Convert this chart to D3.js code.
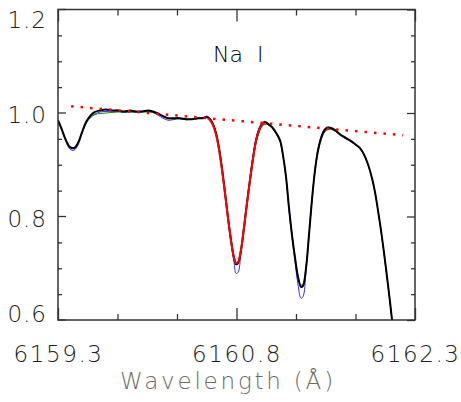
<!DOCTYPE html>
<html>
<head>
<meta charset="utf-8">
<script src="https://cdn.jsdelivr.net/npm/d3@7"></script>
<style>
  body { margin: 0; background: #fff; }
  svg { display: block; }
  .lbl { font-family: "DejaVu Sans", sans-serif; font-weight: 200; }
</style>
</head>
<body>
<div id="chart"></div>
<script>
// wavelength grid (Angstrom)
var wave = [6159.300, 6159.334, 6159.367, 6159.401, 6159.434, 6159.468, 6159.502, 6159.535, 6159.569, 6159.611,
  6159.653, 6159.703, 6159.754, 6159.804, 6159.855, 6159.905, 6159.955, 6160.006, 6160.056, 6160.098,
  6160.140, 6160.182, 6160.224, 6160.266, 6160.325, 6160.376, 6160.426, 6160.476, 6160.518, 6160.552,
  6160.577, 6160.603, 6160.628, 6160.653, 6160.678, 6160.703, 6160.729, 6160.754, 6160.779, 6160.796,
  6160.813, 6160.838, 6160.863, 6160.888, 6160.913, 6160.939, 6160.964, 6160.989, 6161.014, 6161.039,
  6161.065, 6161.098, 6161.132, 6161.166, 6161.191, 6161.216, 6161.241, 6161.266, 6161.292, 6161.317,
  6161.342, 6161.359, 6161.384, 6161.409, 6161.434, 6161.460, 6161.485, 6161.510, 6161.535, 6161.561,
  6161.594, 6161.628, 6161.670, 6161.712, 6161.754, 6161.796, 6161.838, 6161.871, 6161.905, 6161.939,
  6161.964, 6161.989, 6162.014, 6162.039, 6162.065, 6162.090, 6162.107];

// observed spectrum (black)
var fluxObs = [0.986, 0.967, 0.947, 0.934, 0.932, 0.942, 0.963, 0.982, 0.994, 1.002,
  1.005, 1.007, 1.005, 1.005, 1.003, 1.005, 1.003, 1.003, 1.005, 1.003,
  0.999, 0.994, 0.990, 0.990, 0.990, 0.988, 0.988, 0.990, 0.990, 0.992,
  0.988, 0.978, 0.961, 0.932, 0.893, 0.847, 0.797, 0.754, 0.720, 0.708,
  0.710, 0.735, 0.778, 0.826, 0.870, 0.913, 0.947, 0.967, 0.978, 0.982,
  0.979, 0.973, 0.962, 0.947, 0.918, 0.877, 0.817, 0.765, 0.720, 0.683,
  0.664, 0.666, 0.700, 0.764, 0.832, 0.890, 0.928, 0.951, 0.965, 0.971,
  0.971, 0.967, 0.959, 0.953, 0.947, 0.940, 0.932, 0.920, 0.901, 0.874,
  0.847, 0.812, 0.774, 0.731, 0.683, 0.635, 0.600];

// model A (blue)
var fluxBlue = [0.986, 0.966, 0.945, 0.930, 0.928, 0.938, 0.960, 0.980, 0.992, 0.998,
  1.002, 1.003, 1.002, 1.003, 1.001, 1.002, 1.001, 1.002, 1.003, 1.001,
  0.996, 0.990, 0.986, 0.987, 0.989, 0.987, 0.988, 0.990, 0.991, 0.994,
  0.990, 0.980, 0.963, 0.934, 0.895, 0.848, 0.797, 0.750, 0.712, 0.690,
  0.692, 0.730, 0.778, 0.828, 0.873, 0.917, 0.951, 0.971, 0.981, 0.984,
  0.980, 0.973, 0.962, 0.946, 0.916, 0.875, 0.813, 0.760, 0.712, 0.668,
  0.642, 0.645, 0.693, 0.762, 0.833, 0.892, 0.931, 0.954, 0.968, 0.973,
  0.972, 0.967, 0.958, 0.951, 0.946, 0.939, 0.931, 0.919, 0.900, 0.873,
  0.846, 0.811, 0.773, 0.730, 0.682, 0.634, 0.599];

// model B (green)
var fluxGreen = [0.986, 0.967, 0.947, 0.934, 0.933, 0.943, 0.962, 0.979, 0.990, 0.997,
  0.999, 1.000, 1.001, 1.002, 1.002, 1.002, 1.002, 1.002, 1.002, 1.001,
  0.998, 0.993, 0.989, 0.989, 0.989, 0.988, 0.988, 0.989, 0.990, 0.991,
  0.987, 0.977, 0.960, 0.931, 0.893, 0.847, 0.798, 0.756, 0.722, 0.711,
  0.713, 0.737, 0.779, 0.826, 0.869, 0.910, 0.943, 0.962, 0.974, 0.978,
  0.977, 0.971, 0.960, 0.945, 0.917, 0.877, 0.818, 0.766, 0.722, 0.686,
  0.668, 0.670, 0.702, 0.764, 0.830, 0.887, 0.924, 0.947, 0.961, 0.967,
  0.968, 0.965, 0.957, 0.951, 0.946, 0.939, 0.931, 0.919, 0.900, 0.873,
  0.846, 0.811, 0.773, 0.730, 0.682, 0.634, 0.599];

// Na I line fit (red)
var fitWave = [6160.560, 6160.577, 6160.603, 6160.628, 6160.653, 6160.678, 6160.703, 6160.729, 6160.754, 6160.779,
  6160.796, 6160.813, 6160.838, 6160.863, 6160.888, 6160.913, 6160.939, 6160.964, 6160.989, 6161.014, 6161.035];
var fitFlux = [0.990, 0.986, 0.976, 0.958, 0.929, 0.890, 0.845, 0.796, 0.753, 0.720,
  0.710, 0.712, 0.736, 0.779, 0.826, 0.870, 0.912, 0.946, 0.966, 0.977, 0.981];

// continuum (red dotted)
var contWave = [6159.41, 6162.20];
var contFlux = [1.013, 0.957];

var xMajor = [6159.3, 6160.8, 6162.3];
var xMinor = [6159.8, 6160.3, 6161.3, 6161.8];
var yMajor = [0.6, 0.8, 1.0, 1.2];
var yMinor = [0.65, 0.7, 0.75, 0.85, 0.9, 0.95, 1.05, 1.1, 1.15];

var W = 461, H = 402;
var L = 58, R = 415, T = 9.5, B = 320;

var svg = d3.select("#chart").append("svg")
  .attr("width", W)
  .attr("height", H);

var x = d3.scaleLinear().domain([6159.3, 6162.3]).range([L, R]);
var y = d3.scaleLinear().domain([0.6, 1.2]).range([B, T]);

svg.append("clipPath").attr("id", "plot")
  .append("rect")
  .attr("x", L).attr("y", T)
  .attr("width", R - L).attr("height", B - T);

function series(xs, ys) {
  return xs.map(function (w, i) { return [w, ys[i]]; });
}

var line = d3.line()
  .x(function (d) { return x(d[0]); })
  .y(function (d) { return y(d[1]); })
  .curve(d3.curveCatmullRom.alpha(0.5));

var g = svg.append("g").attr("clip-path", "url(#plot)");

g.append("path").attr("d", line(series(wave, fluxBlue)))
  .attr("fill", "none").attr("stroke", "#3a2cff").attr("stroke-width", 1);
g.append("path").attr("d", line(series(wave, fluxGreen)))
  .attr("fill", "none").attr("stroke", "#1a8a1a").attr("stroke-width", 1);
g.append("path").attr("d", line(series(wave, fluxObs)))
  .attr("fill", "none").attr("stroke", "#000").attr("stroke-width", 2);
g.append("path").attr("d", line(series(fitWave, fitFlux)))
  .attr("fill", "none").attr("stroke", "#ff0000").attr("stroke-width", 2);
g.append("path").attr("d", d3.line()
    .x(function (d) { return x(d[0]); })
    .y(function (d) { return y(d[1]); })(series(contWave, contFlux)))
  .attr("fill", "none").attr("stroke", "#ff0000").attr("stroke-width", 2.5)
  .attr("stroke-dasharray", "2.5,7");

// axes: ticks point inward on all four sides
function cleanAxis(sel) {
  sel.select(".domain").remove();
  sel.selectAll(".tick line").attr("stroke", "#333").attr("stroke-width", 1.3);
}

svg.append("g").attr("transform", "translate(0," + B + ")")
  .call(d3.axisBottom(x).tickValues(xMinor).tickSize(-6).tickFormat(""))
  .call(cleanAxis);
var bx = svg.append("g").attr("transform", "translate(0," + B + ")")
  .call(d3.axisBottom(x).tickValues(xMajor).tickSize(-12).tickFormat(d3.format(".1f")))
  .call(cleanAxis);
bx.selectAll("text")
  .attr("class", "lbl").attr("y", 42).attr("dy", null)
  .attr("font-size", 23).attr("fill", "#222").attr("font-family", null)
  .attr("letter-spacing", 1.6);

svg.append("g").attr("transform", "translate(0," + T + ")")
  .call(d3.axisTop(x).tickValues(xMinor).tickSize(-6).tickFormat(""))
  .call(cleanAxis);
svg.append("g").attr("transform", "translate(0," + T + ")")
  .call(d3.axisTop(x).tickValues(xMajor).tickSize(-12).tickFormat(""))
  .call(cleanAxis);

svg.append("g").attr("transform", "translate(" + L + ",0)")
  .call(d3.axisLeft(y).tickValues(yMinor).tickSize(-4).tickFormat(""))
  .call(cleanAxis);
var ly = svg.append("g").attr("transform", "translate(" + L + ",0)")
  .call(d3.axisLeft(y).tickValues(yMajor).tickSize(-8).tickPadding(11).tickFormat(d3.format(".1f")))
  .call(cleanAxis);
// labels are kept inside the frame height, as in the original
function labelY(d) { return Math.max(T + 10.5, Math.min(B - 6.5, y(d) + 2)); }
ly.selectAll(".tick").attr("transform", function (d) {
  return "translate(0," + labelY(d) + ")";
});
ly.selectAll(".tick line").attr("transform", function (d) {
  return "translate(0," + (y(d) - labelY(d)) + ")";
});
ly.selectAll("text")
  .attr("class", "lbl").attr("dy", "0.36em")
  .attr("font-size", 23).attr("fill", "#222").attr("font-family", null)
  .attr("letter-spacing", 1);

svg.append("g").attr("transform", "translate(" + R + ",0)")
  .call(d3.axisRight(y).tickValues(yMinor).tickSize(-4).tickFormat(""))
  .call(cleanAxis);
svg.append("g").attr("transform", "translate(" + R + ",0)")
  .call(d3.axisRight(y).tickValues(yMajor).tickSize(-8).tickFormat(""))
  .call(cleanAxis);

svg.append("rect")
  .attr("x", L).attr("y", T)
  .attr("width", R - L).attr("height", B - T)
  .attr("fill", "none").attr("stroke", "#333").attr("stroke-width", 1.5);

svg.append("text")
  .attr("class", "lbl")
  .attr("x", 213).attr("y", 62)
  .attr("font-size", 22).attr("fill", "#000")
  .style("white-space", "pre")
  .text("Na  I");

svg.append("text")
  .attr("class", "lbl")
  .attr("x", 228).attr("y", 389)
  .attr("text-anchor", "middle")
  .attr("font-size", 23).attr("fill", "#6a6a6a")
  .attr("letter-spacing", 2.8)
  .style("white-space", "pre")
  .text("Wavelength (Å)");
</script>
</body>
</html>
